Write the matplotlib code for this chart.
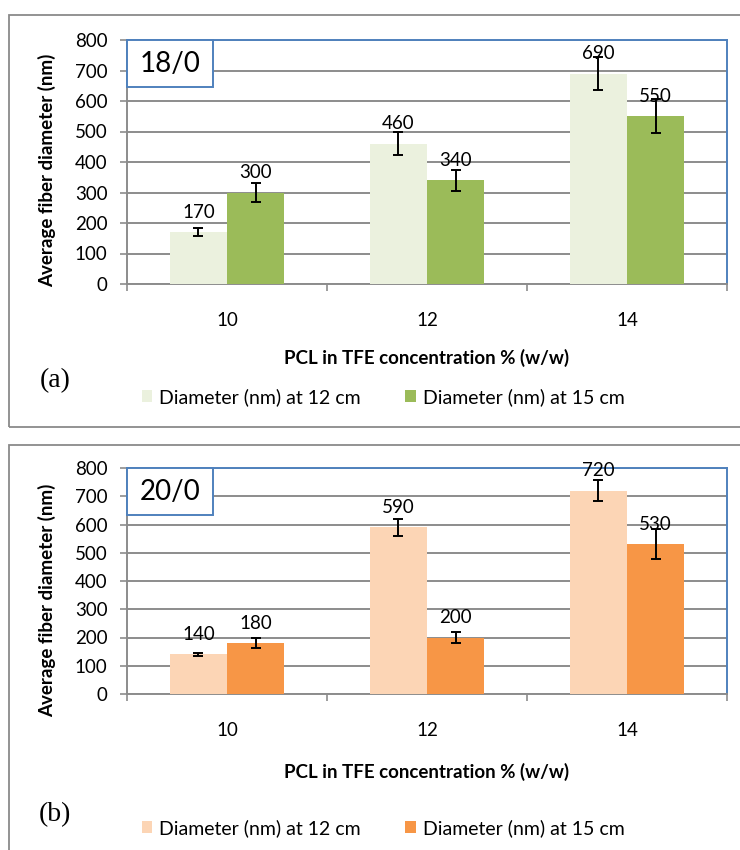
import matplotlib
matplotlib.use("Agg")
import matplotlib.pyplot as plt
from matplotlib.patches import Rectangle
import numpy as np

plt.rcParams['font.family'] = ['Lato', 'DejaVu Sans']

categories = ['10', '12', '14']
series_names = ['Diameter (nm) at 12 cm', 'Diameter (nm) at 15 cm']

a_12 = [170, 460, 690]
a_12_err = [14, 38, 55]
a_15 = [300, 340, 550]
a_15_err = [31, 34, 56]

b_12 = [140, 590, 720]
b_12_err = [5, 31, 36]
b_15 = [180, 200, 530]
b_15_err = [17, 20, 53]

yticks = [0, 100, 200, 300, 400, 500, 600, 700, 800]

W, H = 740, 850
fig = plt.figure(figsize=(W / 100, H / 100), dpi=100)

def fx(px):
    return px / W

def fy(py):
    return 1 - py / H

GRID = '#8c8c8c'
BLUE = '#4F81BD'
FS = 13.5

def panel(top_px, bottom_px, v12, e12, v15, e15, c12, c15, box_text, letter,
          frame_top, frame_bottom, xlab_y, legend_y, letter_y, ylab_y):
    # outer frame
    fig.patches.append(Rectangle((fx(9), fy(frame_bottom)), fx(760) - fx(9),
                                 fy(frame_top) - fy(frame_bottom),
                                 transform=fig.transFigure, fill=False,
                                 edgecolor='#8a8a8a', linewidth=1.3))
    ax = fig.add_axes([fx(127), fy(bottom_px), fx(600), (bottom_px - top_px) / H])
    x = np.arange(len(categories))
    w = 0.2857
    b1 = ax.bar(x - w / 2, v12, w, color=c12, yerr=e12, capsize=3.5,
                error_kw=dict(ecolor='black', elinewidth=1.4, capthick=1.4),
                label=series_names[0], zorder=3)
    b2 = ax.bar(x + w / 2, v15, w, color=c15, yerr=e15, capsize=3.5,
                error_kw=dict(ecolor='black', elinewidth=1.4, capthick=1.4),
                label=series_names[1], zorder=3)
    for bars, vals in ((b1, v12), (b2, v15)):
        for r, v in zip(bars, vals):
            ax.annotate(str(v), (r.get_x() + r.get_width() / 2, v),
                        xytext=(0, 14.5), textcoords='offset points',
                        ha='center', va='center', fontsize=FS, zorder=5)
    ax.set_xlim(-0.5, 2.5)
    ax.set_ylim(0, 800)
    ax.set_yticks(yticks)
    ax.set_yticklabels([str(t) for t in yticks], fontsize=FS)
    ax.yaxis.grid(True, color=GRID, linewidth=1.4, zorder=0)
    ax.set_axisbelow(True)
    ax.set_xticks(x)
    ax.set_xticklabels(categories, fontsize=FS)
    ax.set_xticks([-0.5, 0.5, 1.5, 2.5], minor=True)
    ax.tick_params(axis='x', which='major', length=0, pad=20)
    ax.tick_params(axis='x', which='minor', length=5, width=1.2, color=GRID, direction='out')
    ax.tick_params(axis='y', length=5, width=1.2, color=GRID, direction='out', pad=9)
    for s in ('top', 'right'):
        ax.spines[s].set_color(BLUE)
        ax.spines[s].set_linewidth(1.4)
    for s in ('left', 'bottom'):
        ax.spines[s].set_color(GRID)
        ax.spines[s].set_linewidth(1.4)
    ax.spines['left'].set_zorder(4)
    fig.text(fx(47), fy(ylab_y), 'Average fiber diameter (nm)', fontsize=13.5,
             fontweight='bold', rotation=90, ha='center', va='center')
    # box with label
    bx_h = 47
    fig.patches.append(Rectangle((fx(127), fy(top_px + bx_h)), fx(86), bx_h / H,
                                 transform=fig.transFigure, facecolor='white',
                                 edgecolor=BLUE, linewidth=1.4, zorder=10))
    fig.text(fx(170), fy(top_px + bx_h / 2), box_text, fontsize=20, ha='center',
             va='center', zorder=11)
    fig.text(fx(427), fy(xlab_y), 'PCL in TFE concentration % (w/w)', fontsize=13.5,
             fontweight='bold', ha='center', va='center')
    fig.text(fx(55), fy(letter_y), letter, fontsize=20, ha='center', va='center',
             family='Liberation Serif')
    fig.legend(handles=[b1, b2], labels=series_names, ncol=2, frameon=False,
               loc='center left', bbox_to_anchor=(fx(124), fy(legend_y)),
               fontsize=14, handlelength=0.55, handleheight=0.6,
               columnspacing=2.3, handletextpad=0.35)
    return ax

panel(40, 284, a_12, a_12_err, a_15, a_15_err, '#EBF1DE', '#9BBB59', '18/0', '(a)',
      15, 427, 358, 397, 381, 170)
panel(468, 694, b_12, b_12_err, b_15, b_15_err, '#FCD5B5', '#F79646', '20/0', '(b)',
      445, 870, 772, 828, 815, 600)

fig.savefig('out.png', dpi=100)
